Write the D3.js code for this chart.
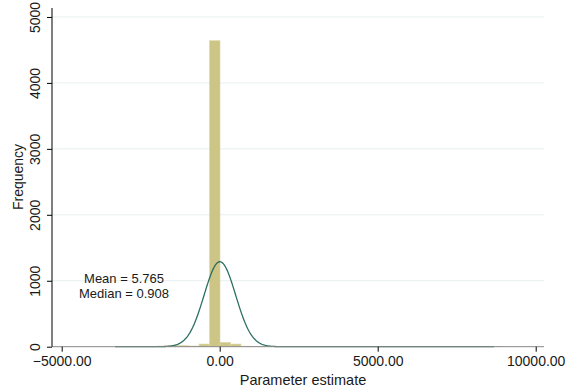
<!DOCTYPE html>
<html>
<head>
<meta charset="utf-8">
<script src="https://cdn.jsdelivr.net/npm/d3@7"></script>
<style>
	body { margin: 0; background: #fff; }
	text { font-family: "Liberation Sans", Arial, sans-serif; fill: #1a1a1a; }
</style>
</head>
<body>
<script>
//histogram data
let binStart = -3300; //left edge of the first bin
let binWidth = 331; //width of one bin
let binCounts = [2, 3, 4, 6, 10, 18, 15, 10, 40, 4640, 65, 40, 8, 4, 3, 2, 2, 1, 1, 1, 1, 1, 0, 1, 0, 0, 1, 0, 0, 0, 0, 0, 0, 0, 0, 0, 1];

//normal curve parameters
let meanVal = 5.765;
let medianVal = 0.908;
let sdVal = 500;
let curveRange = [-3310, 8680];

//tick labels
let xTicks = [-5000, 0, 5000, 10000];
let yTicks = [0, 1000, 2000, 3000, 4000, 5000];

let svg = d3.select("body").append("svg")
	.attr("width", 568)
	.attr("height", 391);

//plot area edges in pixels
let plotLeft = 52, plotRight = 544, plotTop = 8, plotBottom = 346.7;

let scaleX = d3.scaleLinear()
	.domain([-5307, 10263])
	.range([plotLeft, plotRight]);

let scaleY = d3.scaleLinear()
	.domain([0, 5136])
	.range([plotBottom, plotTop]);

//horizontal grid lines
svg.append("g")
	.selectAll("line")
	.data(yTicks.filter(d => d > 0))
	.enter().append("line")
	.attr("x1", plotLeft)
	.attr("x2", plotRight)
	.attr("y1", d => scaleY(d))
	.attr("y2", d => scaleY(d))
	.attr("stroke", "#e6eff0")
	.attr("stroke-width", 1);

//build the bins from the counts
let bins = binCounts.map((c, i) => ({
	x0: binStart + i * binWidth,
	x1: binStart + (i + 1) * binWidth,
	count: c
}));

svg.append("g")
	.selectAll("rect")
	.data(bins.filter(d => d.count > 0))
	.enter().append("rect")
	.attr("x", d => scaleX(d.x0))
	.attr("width", d => scaleX(d.x1) - scaleX(d.x0))
	.attr("y", d => scaleY(d.count))
	.attr("height", d => scaleY(0) - scaleY(d.count))
	.attr("fill", "#cdc586")
	.attr("stroke", "#dcd6a6")
	.attr("stroke-width", 0.6);

//normal density, scaled to frequency
let total = d3.sum(binCounts);
let curvePts = d3.range(0, 401).map(i => {
	let x = curveRange[0] + (curveRange[1] - curveRange[0]) * i / 400;
	let z = (x - meanVal) / sdVal;
	return [x, total * binWidth * Math.exp(-0.5 * z * z) / (sdVal * Math.sqrt(2 * Math.PI))];
});

svg.append("path")
	.datum(curvePts)
	.attr("fill", "none")
	.attr("stroke", "#2b6f62")
	.attr("stroke-width", 1.3)
	.attr("d", d3.line().x(d => scaleX(d[0])).y(d => scaleY(d[1])));

//x axis
let xAxis = d3.axisBottom(scaleX)
	.tickValues(xTicks)
	.tickSize(5)
	.tickSizeOuter(0)
	.tickFormat(d => (d < 0 ? "\u2212" : "") + Math.abs(d).toFixed(2));

let xG = svg.append("g")
	.attr("transform", `translate(0, ${plotBottom})`)
	.call(xAxis);
xG.select(".domain").attr("stroke", "#888").attr("d", `M${plotLeft},0H${plotRight}`);
xG.selectAll(".tick line").attr("stroke", "#000");
xG.selectAll(".tick text")
	.attr("font-size", 14)
	.attr("font-family", "Liberation Sans, Arial, sans-serif")
	.attr("fill", "#1a1a1a")
	.attr("dy", null)
	.attr("y", 19.5);

//y axis
let yAxis = d3.axisLeft(scaleY)
	.tickValues(yTicks)
	.tickSize(5)
	.tickSizeOuter(0)
	.tickFormat(d3.format("d"));

let yG = svg.append("g")
	.attr("transform", `translate(${plotLeft}, 0)`)
	.call(yAxis);
yG.select(".domain").attr("stroke", "#000").attr("d", `M0,${plotTop}V${plotBottom}`);
yG.selectAll(".tick line").attr("stroke", "#000");
yG.selectAll(".tick text")
	.attr("font-size", 14)
	.attr("font-family", "Liberation Sans, Arial, sans-serif")
	.attr("fill", "#1a1a1a")
	.attr("x", null)
	.attr("dy", null)
	.attr("text-anchor", "middle")
	.attr("transform", "translate(-12, 0) rotate(-90)");

//axis titles
svg.append("text")
	.attr("x", 303)
	.attr("y", 385)
	.attr("text-anchor", "middle")
	.attr("font-size", 14.5)
	.text("Parameter estimate");

svg.append("text")
	.attr("transform", "translate(23, 177) rotate(-90)")
	.attr("text-anchor", "middle")
	.attr("font-size", 14)
	.text("Frequency");

//mean and median note
svg.append("text")
	.attr("x", 124)
	.attr("y", 283)
	.attr("text-anchor", "middle")
	.attr("font-size", 13)
	.text("Mean = " + meanVal.toFixed(3));

svg.append("text")
	.attr("x", 124)
	.attr("y", 298)
	.attr("text-anchor", "middle")
	.attr("font-size", 13)
	.text("Median = " + medianVal.toFixed(3));
</script>
</body>
</html>
